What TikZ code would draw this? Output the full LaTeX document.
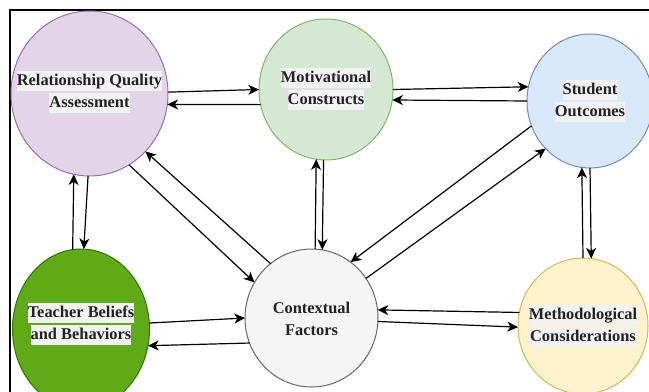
\documentclass[tikz,border=0pt]{standalone}
\usepackage{fontspec}
\setmainfont{Liberation Serif}
\usetikzlibrary{shapes.geometric,arrows.meta}
\definecolor{rqaF}{HTML}{E1D5E7}\definecolor{rqaD}{HTML}{9673A6}
\definecolor{motF}{HTML}{D5E8D4}\definecolor{motD}{HTML}{82B366}
\definecolor{stuF}{HTML}{DAE8FC}\definecolor{stuD}{HTML}{6C8EBF}
\definecolor{teaF}{HTML}{60A917}\definecolor{teaD}{HTML}{2D7600}
\definecolor{ctxF}{HTML}{F5F5F5}\definecolor{ctxD}{HTML}{666666}
\definecolor{metF}{HTML}{FFF2CC}\definecolor{metD}{HTML}{D6B656}
\definecolor{lblbg}{HTML}{F2F2F2}
\definecolor{txt}{HTML}{222222}
\newcommand\lbline[1]{{\setlength\fboxsep{0pt}\colorbox{lblbg}{\rule[-4pt]{0pt}{15pt}#1}}}
\tikzset{
  blob/.style={ellipse, draw, line width=0.75pt, inner sep=0pt, outer sep=0pt},
  lbl/.style={align=center, inner sep=0pt, text=txt, font=\fontsize{12.3}{16.5}\selectfont\bfseries},
  arr/.style={draw=black, line width=0.9pt, -{Stealth[length=8pt,width=7.5pt,inset=2.3pt]}}
}
\begin{document}
\begin{tikzpicture}[x=0.75pt,y=-0.75pt]
\useasboundingbox (0,0) rectangle (649,392);
\clip (0,0) rectangle (649,392);
\draw[line width=0.9pt] (10,460) -- (10,10) -- (700,10);

\node[blob, fill=rqaF, draw=rqaD, minimum width=117.75pt, minimum height=123.75pt] (rqa) at (89.5,93.5) {};
\node[blob, fill=motF, draw=motD, minimum width=100.5pt, minimum height=105.75pt] (mot) at (326,89.5) {};
\node[blob, fill=stuF, draw=stuD, minimum width=94.5pt, minimum height=100.5pt] (stu) at (590,101) {};
\node[blob, fill=teaF, draw=teaD, minimum width=102.75pt, minimum height=120pt] (tea) at (81,329) {};
\node[blob, fill=ctxF, draw=ctxD, minimum width=99.75pt, minimum height=103.5pt] (ctx) at (311.5,318) {};
\node[blob, fill=metF, draw=metD, minimum width=97.5pt, minimum height=102pt] (met) at (583,326) {};

\node[lbl] (rqat) at (89.5,92) {\lbline{Relationship Quality}\\\lbline{Assessment}};
\node[lbl] (mott) at (326,89) {\lbline{Motivational}\\\lbline{Constructs}};
\node[lbl] (stut) at (590,101) {\lbline{Student}\\\lbline{Outcomes}};
\node[lbl] (teat) at (81,324) {\lbline{Teacher Beliefs}\\\lbline{and Behaviors}};
\node[lbl] (ctxt) at (311.5,319) {Contextual\\Factors};
\node[lbl] (mett) at (583,326) {\lbline{Methodological}\\\lbline{Considerations}};

% RQA <-> Motivational
\draw[arr] (rqa.1) -- (mot.180);
\draw[arr] (mot.193) -- (rqa.-8);
% Motivational <-> Student
\draw[arr] (mot.0) -- (stu.167);
\draw[arr] (stu.180) -- (mot.-9);
% Student <-> Contextual
\draw[arr] (stu.203) -- (ctx.55);
\draw[arr] (ctx.36) -- (stu.227);
% Student <-> Methodological
\draw[arr] (met.90) -- (stu.-97);
\draw[arr] (stu.-90) -- (met.83.5);
% Methodological <-> Contextual
\draw[arr] (met.168) -- (ctx.7);
\draw[arr] (ctx.-3) -- (met.181);
% Teacher <-> Contextual
\draw[arr] (tea.5.5) -- (ctx.180);
\draw[arr] (ctx.202.5) -- (tea.-14);
% RQA <-> Teacher
\draw[arr] (rqa.-91.7) -- (tea.88);
\draw[arr] (tea.96) -- (rqa.-101.7);
% RQA <-> Contextual
\draw[arr] (rqa.-61.5) -- (ctx.148);
\draw[arr] (ctx.127.5) -- (rqa.-46);
% Motivational <-> Contextual
\draw[arr] (ctx.87) -- (mot.-98);
\draw[arr] (mot.-92.4) -- (ctx.81);
\end{tikzpicture}
\end{document}
